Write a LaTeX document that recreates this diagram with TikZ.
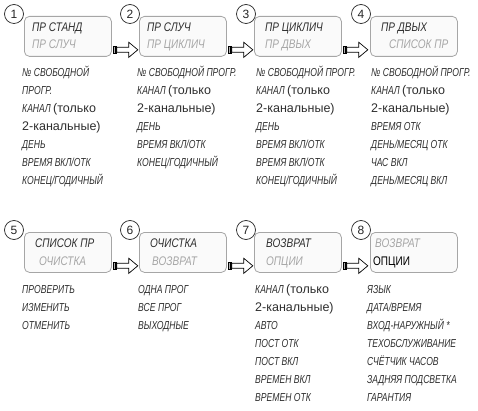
\documentclass[tikz,border=0pt]{standalone}
\usepackage{fontspec}
\setmainfont{Liberation Sans}
\newfontfamily\cf[FakeStretch=0.8]{Liberation Sans}
\newfontfamily\cfl[FakeStretch=0.74]{Liberation Sans}
\usetikzlibrary{calc}
\newcommand{\uf}[1]{{\normalfont\fontsize{12.5}{13}\selectfont #1}}
\newcommand{\kanal}{КАНАЛ \uf{(только}}
\newcommand{\dvuh}{\uf{2-канальные)}}
\tikzset{
  box/.style={draw=gray!70, line width=0.8pt, rounded corners=5pt, fill=gray!4,
    minimum width=87pt, minimum height=40pt, inner sep=0pt, anchor=north west},
  num/.style={circle, draw=black!85, fill=white, line width=0.7pt, minimum size=19pt,
    inner sep=0pt, font=\fontsize{12}{12}\selectfont, text=black!85},
  bt/.style={anchor=base west, inner sep=0pt, font=\cf\itshape\fontsize{12.5}{14}\selectfont, text=black!82},
  bg/.style={bt, text=black!35},
  lst/.style={anchor=base west, inner sep=0pt, font=\cfl\itshape\fontsize{11.6}{13}\selectfont, text=black!82},
  arrbody/.style={draw=black, fill=white, line width=0.7pt, line join=miter},
}
\newcommand{\arr}[1]{%
  \begin{scope}[shift={(#1.south east)}]
    \fill[black] (1,-11) rectangle (5,-3);
    \draw[gray!60, line width=0.6pt] (2.6,-10) -- (2.6,-4);
    \draw[arrbody] (5,-9.5) -- (17,-9.5) -- (17,-14.5) -- (26,-7) -- (17,0.5) -- (17,-4.5) -- (5,-4.5) -- cycle;
  \end{scope}}
\newcommand{\col}[4]{% name, x, first baseline, items
  \foreach \t [count=\i] in {#4} {
    \node[lst] (#1-\i) at (#2, {#3+18*(\i-1)}) {\t};
  }}
\begin{document}
\begin{tikzpicture}[x=1pt, y=-1pt]
\useasboundingbox (0,0) rectangle (478,411);
% boxes
\node[box] (b1) at (24,16) {};
\node[box] (b2) at (139,16) {};
\node[box] (b3) at (254,16) {};
\node[box] (b4) at (370,16) {};
\node[box] (b5) at (24,232) {};
\node[box] (b6) at (139,232) {};
\node[box] (b7) at (254,232) {};
\node[box] (b8) at (370,232) {};
% circles
\node[num] (n1) at (14,14) {1};
\node[num] (n2) at (130,14) {2};
\node[num] (n3) at (246,14) {3};
\node[num] (n4) at (361,14) {4};
\node[num] (n5) at (14,230) {5};
\node[num] (n6) at (130,230) {6};
\node[num] (n7) at (246,230) {7};
\node[num] (n8) at (361,230) {8};
% arrows
\arr{b1}\arr{b2}\arr{b3}
\arr{b5}\arr{b6}\arr{b7}
% box texts
\node[bt] (t1a) at (32,31.5) {ПР СТАНД};
\node[bg] (t1b) at (32,48.5) {ПР СЛУЧ};
\node[bt] (t2a) at (147,31.5) {ПР СЛУЧ};
\node[bg] (t2b) at (147,48.5) {ПР ЦИКЛИЧ};
\node[bt] (t3a) at (265,31.5) {ПР ЦИКЛИЧ};
\node[bg] (t3b) at (265,48.5) {ПР ДВЫХ};
\node[bt] (t4a) at (381,31.5) {ПР ДВЫХ};
\node[bg] (t4b) at (389,48.5) {СПИСОК ПР};
\node[bt] (t5a) at (35,247.5) {СПИСОК ПР};
\node[bg] (t5b) at (39,265.5) {ОЧИСТКА};
\node[bt] (t6a) at (150,247.5) {ОЧИСТКА};
\node[bg] (t6b) at (152,265.5) {ВОЗВРАТ};
\node[bt] (t7a) at (266,247.5) {ВОЗВРАТ};
\node[bg] (t7b) at (266,265.5) {ОПЦИИ};
\node[bg] (t8a) at (375,247.5) {ВОЗВРАТ};
\node[bt, text=black, font=\cf\fontsize{12.5}{14}\selectfont] (t8b) at (373,265.5) {ОПЦИИ};
% lists row 1
\col{l1}{22}{77}{№ СВОБОДНОЙ, ПРОГР., \kanal, \dvuh, ДЕНЬ, ВРЕМЯ ВКЛ/ОТК, КОНЕЦ/ГОДИЧНЫЙ}
\col{l2}{137}{77}{№ СВОБОДНОЙ ПРОГР., \kanal, \dvuh, ДЕНЬ, ВРЕМЯ ВКЛ/ОТК, КОНЕЦ/ГОДИЧНЫЙ}
\col{l3}{256}{77}{№ СВОБОДНОЙ ПРОГР., \kanal, \dvuh, ДЕНЬ, ВРЕМЯ ВКЛ/ОТК, ВРЕМЯ ВКЛ/ОТК, КОНЕЦ/ГОДИЧНЫЙ}
\col{l4}{371}{77}{№ СВОБОДНОЙ ПРОГР., \kanal, \dvuh, ВРЕМЯ ОТК, ДЕНЬ/МЕСЯЦ ОТК, ЧАС ВКЛ, ДЕНЬ/МЕСЯЦ ВКЛ}
% lists row 2
\col{l5}{22}{293}{ПРОВЕРИТЬ, ИЗМЕНИТЬ, ОТМЕНИТЬ}
\col{l6}{138}{293}{ОДНА ПРОГ, ВСЕ ПРОГ, ВЫХОДНЫЕ}
\col{l7}{255}{293}{\kanal, \dvuh, АВТО, ПОСТ ОТК, ПОСТ ВКЛ, ВРЕМЕН ВКЛ, ВРЕМЕН ОТК}
\col{l8}{367}{293}{ЯЗЫК, ДАТА/ВРЕМЯ, ВХОД-НАРУЖНЫЙ *, ТЕХОБСЛУЖИВАНИЕ, СЧЁТЧИК ЧАСОВ, ЗАДНЯЯ ПОДСВЕТКА, ГАРАНТИЯ}
\end{tikzpicture}
\end{document}
